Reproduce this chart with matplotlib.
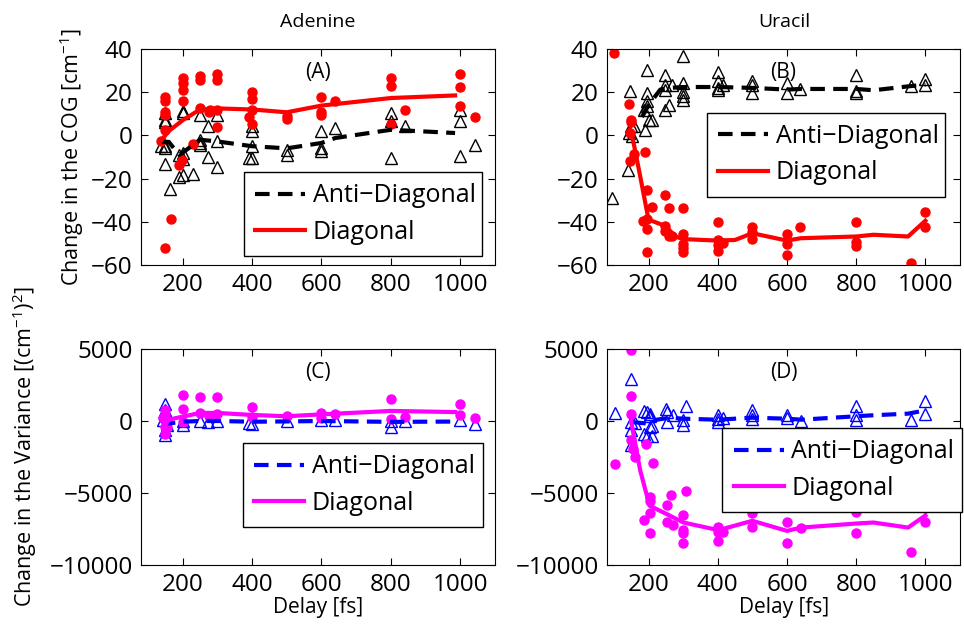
import matplotlib
matplotlib.use('Agg')
import matplotlib.pyplot as plt

plt.rcParams['font.family'] = ['Open Sans', 'DejaVu Sans']
plt.rcParams['mathtext.fontset'] = 'custom'
plt.rcParams['mathtext.rm'] = 'Open Sans'
plt.rcParams['mathtext.it'] = 'Open Sans:italic'

# Adenine, change in COG (A)
A_dot_x = [150, 150, 150, 150, 150, 137, 150, 166, 190, 198, 200, 200, 200, 200, 229,
           250, 250, 250, 275, 280, 300, 300, 300, 300, 400, 400, 400, 390, 400, 500, 500,
           600, 600, 600, 640, 800, 800, 800, 840, 1000, 1000, 1000, 1042]
A_dot_y = [18, 16, 11, 9.5, 2.6, -2.8, -52, -38.6, -13.6, -11.3, 26.6, 24.3, 21, 15.8, -3.9,
           27.4, 25.8, 12.7, 11, 11.9, 28.4, 25.8, 11.9, 3.7, 20, 17, 11.9, 8.5, 5.4, 7.6, 9.1,
           18, 11, 9.6, 15.8, 26.6, 23, 5.4, 11.9, 28.4, 22.4, 13.8, 8.5]
A_tri_x = [137, 150, 150, 150, 150, 150, 150, 164, 190, 200, 200, 200, 190, 200, 200, 230,
           250, 250, 250, 250, 272, 272, 300, 300, 300, 400, 400, 400, 390, 400, 500, 500,
           600, 600, 600, 640, 800, 800, 800, 840, 1000, 1000, 1000, 1042]
A_tri_y = [-5, -4.8, 6, 7, 10.4, -13.3, -5.9, -24.7, -19.3, -18.2, 10.4, 11.4, -9, -8.2, -11, -17.9,
           9.6, -2, -3.6, -4.3, -10.2, 4.2, 9.6, -2.8, -14.4, 4.2, 1.9, -5.1, -10.5, -10.5, -6.6, -9,
           1.9, -5.9, -7, 3.4, 10.4, -10.5, 6.5, 4.5, 11.9, 6.5, -9.4, -4.3]
A_diag_x = [140, 160, 200, 250, 300, 400, 500, 600, 800, 985]
A_diag_y = [-2, 2, 7, 12, 12.5, 12, 10.7, 13.8, 17.3, 18.5]
A_anti_x = [140, 160, 190, 200, 250, 300, 400, 500, 600, 640, 800, 985]
A_anti_y = [-3, -3, -9, -8, -2, -2.8, -5, -6, -3.5, -1.2, 2.6, 1.1]

# Uracil, change in COG (B)
B_dot_x = [99, 145, 149, 149, 147, 147, 159, 189, 184, 197, 197, 197, 197, 210,
           249, 259, 249, 249, 259, 269, 301, 301, 301, 301, 301, 400, 400, 400, 400, 416,
           500, 500, 500, 600, 600, 600, 639, 800, 800, 800, 958, 1000, 1000]
B_dot_y = [38.2, 14.7, 7, 6, 1, -12, -8.5, -7.9, -39.7, -25.2, -38.9, -43.4, -53.8, -33,
           -27.8, -33.8, -41.9, -44.4, -46.8, -46.5, -33.7, -45.6, -50.2, -52.2, -53.8,
           -40.2, -48.4, -50.7, -53.3, -49.9, -42.2, -44.6, -48.1, -45.6, -50.4, -55.6,
           -42.5, -40.2, -49.2, -51.2, -59.2, -35.5, -42.6]
B_tri_x = [94, 147, 149, 145, 151, 142, 157, 186, 190, 197, 197, 197, 197, 200, 210,
           249, 249, 249, 259, 249, 269, 301, 301, 301, 301, 301, 400, 400, 400, 400, 416,
           500, 500, 500, 600, 600, 639, 800, 800, 800, 958, 1000, 1000]
B_tri_y = [-29, 20.4, 4.2, 1, -0.1, -16, 4.2, 11.9, 2.6, 30.4, 19.7, 15.8, 13.8, 7.3, 7.3,
           28.1, 23.5, 11.9, 14.2, 20.9, 23.5, 36.6, 24.3, 20, 18.1, 16.5, 29.2, 25, 22, 20.8, 23.5,
           25, 23.5, 19.7, 24.3, 19.7, 21.5, 28.1, 20.4, 19.7, 22.7, 26, 23.5]
B_diag_x = [147, 157, 176, 200, 250, 277, 300, 400, 450, 500, 600, 640, 800, 850, 950, 1000]
B_diag_y = [2.6, -3.6, -19, -39, -42, -46.8, -48, -48.7, -48.4, -45.3, -48.7, -47.6, -46.8, -46, -46.8, -39.5]
B_anti_x = [181, 200, 234, 262, 300, 400, 500, 600, 640, 800, 850, 950, 1000]
B_anti_y = [8.5, 14, 21.2, 22, 22.4, 22.4, 22, 21.2, 21.5, 21.5, 20.9, 22.7, 23.5]

# Adenine, change in variance (C)
C_dot_x = [150, 150, 150, 150, 142, 156, 200, 200, 200, 250, 250, 275, 300, 300,
           400, 400, 500, 600, 600, 640, 800, 800, 840, 1000, 1000, 1042]
C_dot_y = [400, 750, -420, -880, 230, -420, 1800, 820, -70, 1680, 580, 330, 1680, 510,
           980, 280, 330, 560, 230, 510, 1510, 160, 280, 1160, 440, 230]
C_tri_x = [150, 150, 142, 150, 150, 155, 200, 200, 250, 272, 300, 390, 400, 500,
           600, 640, 800, 800, 840, 1000, 1042]
C_tri_y = [1210, 750, 50, -650, -1000, -300, 0, -300, 0, -70, 0, -120, -190, 0,
           50, 90, 0, -420, 0, 50, -190]
C_diag_x = [137, 150, 160, 200, 250, 300, 400, 500, 600, 800, 985]
C_diag_y = [200, -300, 100, 300, 560, 560, 420, 330, 460, 700, 620]
C_anti_x = [140, 150, 200, 250, 300, 400, 500, 600, 800, 985]
C_anti_y = [0, -200, -50, 0, 0, -50, -30, 0, -60, -40]

# Uracil, change in variance (D)
D_dot_x = [150, 150, 150, 150, 155, 162, 104, 192, 214, 203, 203, 203, 203, 187,
           253, 264, 253, 272, 308, 301, 301, 301, 301, 402, 402, 402, 416,
           500, 500, 600, 600, 642, 800, 800, 958, 1000, 1000]
D_dot_y = [4900, 1720, 510, -1350, -1930, -2510, -3020, -1630, -2930, -5300, -5580, -6420, -7790, -6860,
           -5810, -5140, -6980, -7210, -4840, -6560, -7580, -7810, -8440, -7350, -7700, -8300, -7700,
           -6420, -7350, -6980, -8490, -7440, -6300, -7810, -9070, -6050, -7000]
D_tri_x = [104, 150, 148, 148, 150, 162, 186, 197, 203, 187, 197, 203, 210, 203, 210,
           251, 253, 253, 272, 308, 301, 301, 402, 402, 416, 402, 500, 500, 500,
           600, 600, 642, 800, 800, 800, 958, 1000, 1000]
D_tri_y = [560, 2950, -70, -1700, -600, -140, 700, 630, 510, -880, -1070, -420, -1070, 330, -370,
           860, 630, -70, 400, 1020, 90, -300, 400, -70, 230, 160, 750, 400, 160,
           400, 230, 0, 1020, 400, 50, 90, 1400, 510]
D_diag_x = [150, 176, 203, 253, 301, 402, 500, 600, 642, 800, 850, 950, 1000]
D_diag_y = [-70, -3440, -5880, -6470, -7050, -7580, -6930, -7630, -7400, -7120, -7050, -7400, -6560]
D_anti_x = [150, 203, 224, 262, 300, 400, 500, 600, 642, 800, 850, 950, 1000]
D_anti_y = [-70, -190, 90, 230, 160, 90, 230, 160, 90, 330, 400, 510, 740]

W, H = 964, 627
fig = plt.figure(figsize=(W / 100, H / 100), dpi=100)


def make_axes(left, top, right, bottom):
    return fig.add_axes([left / W, 1 - bottom / H, (right - left) / W, (bottom - top) / H])


def draw(ax, tri, dot, anti, diag, tri_col, dot_col, line_col, tag, ylim, yticks, leg_box, leg_loc):
    ax.plot(tri[0], tri[1], linestyle='none', marker='^', ms=9, mfc='none', mec=tri_col, mew=1.0)
    ax.plot(dot[0], dot[1], linestyle='none', marker='o', ms=6.5, color=dot_col, mec=dot_col)
    ax.plot(anti[0], anti[1], color=line_col, lw=3, linestyle=(0, (3.5, 2)), label='Anti\u2212Diagonal')
    ax.plot(diag[0], diag[1], color=dot_col, lw=3, label='Diagonal')
    ax.set_xlim(80, 1100)
    ax.set_ylim(*ylim)
    ax.set_xticks([200, 400, 600, 800, 1000])
    ax.set_yticks(yticks)
    ax.tick_params(direction='in', top=True, right=True, length=5, labelsize=17.5, width=0.8, pad=6)
    ax.text(0.5, 0.893, tag, transform=ax.transAxes, ha='center', va='center', fontsize=15)
    leg = ax.legend(loc=leg_loc, bbox_to_anchor=leg_box, mode='expand', fontsize=18,
                    frameon=True, fancybox=False, handlelength=2.0, handletextpad=0.3,
                    borderpad=0.45, labelspacing=0.45, borderaxespad=0)
    leg.get_frame().set_edgecolor('black')
    leg.get_frame().set_linewidth(1.0)
    leg.get_frame().set_alpha(1)


axA = make_axes(141, 49, 495, 265)
axB = make_axes(607, 49, 960, 265)
axC = make_axes(141, 349, 495, 565)
axD = make_axes(607, 349, 960, 565)

draw(axA, (A_tri_x, A_tri_y), (A_dot_x, A_dot_y), (A_anti_x, A_anti_y), (A_diag_x, A_diag_y),
     'black', 'red', 'black', '(A)', (-60, 40), [-60, -40, -20, 0, 20, 40],
     (0.291, 0.042, 0.672, 0.352), 'lower left')
draw(axB, (B_tri_x, B_tri_y), (B_dot_x, B_dot_y), (B_anti_x, B_anti_y), (B_diag_x, B_diag_y),
     'black', 'red', 'black', '(B)', (-60, 40), [-60, -40, -20, 0, 20, 40],
     (0.283, 0.356, 0.675, 0.348), 'upper left')
draw(axC, (C_tri_x, C_tri_y), (C_dot_x, C_dot_y), (C_anti_x, C_anti_y), (C_diag_x, C_diag_y),
     'blue', 'magenta', 'blue', '(C)', (-10000, 5000), [-10000, -5000, 0, 5000],
     (0.288, 0.176, 0.678, 0.347), 'lower left')
draw(axD, (D_tri_x, D_tri_y), (D_dot_x, D_dot_y), (D_anti_x, D_anti_y), (D_diag_x, D_diag_y),
     'blue', 'magenta', 'blue', '(D)', (-10000, 5000), [-10000, -5000, 0, 5000],
     (0.327, 0.287, 0.679, 0.347), 'upper left')

fig.text(318 / W, 1 - 22 / H, 'Adenine', ha='center', va='center', fontsize=14)
fig.text(784 / W, 1 - 22 / H, 'Uracil', ha='center', va='center', fontsize=14)
fig.text(318 / W, 1 - 607 / H, 'Delay [fs]', ha='center', va='center', fontsize=15)
fig.text(784 / W, 1 - 607 / H, 'Delay [fs]', ha='center', va='center', fontsize=15)
fig.text(72 / W, 1 - 157 / H, 'Change in the COG [cm$^{-1}$]', rotation=90,
         ha='center', va='center', fontsize=15.5)
fig.text(25 / W, 1 - 447 / H, 'Change in the Variance [(cm$^{-1}$)$^{2}$]', rotation=90,
         ha='center', va='center', fontsize=15.5)

fig.savefig('out.png', dpi=100)
